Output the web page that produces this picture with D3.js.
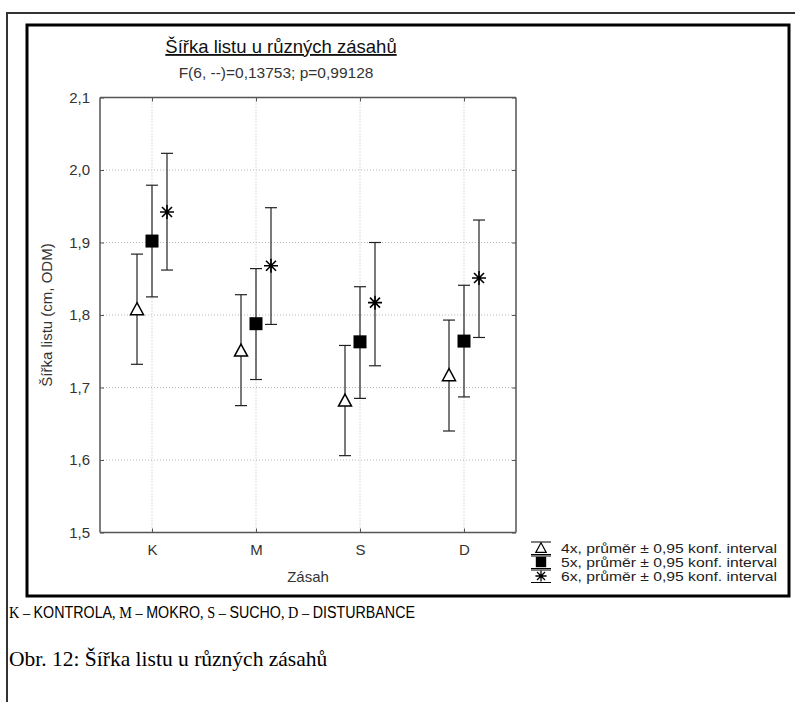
<!DOCTYPE html>
<html>
<head>
<meta charset="utf-8">
<script src="https://cdn.jsdelivr.net/npm/d3@7"></script>
<style>
  body { margin: 0; background: #fff; }
  svg { display: block; }
</style>
</head>
<body>
<svg width="795" height="702"></svg>
<script>
var categories = ["K", "M", "S", "D"];
var seriesNames = ["4x", "5x", "6x"];
// prumer, dolni a horni mez 0,95 intervalu
var mean4 = [1.808, 1.751, 1.682, 1.717];
var low4  = [1.732, 1.675, 1.606, 1.640];
var high4 = [1.884, 1.828, 1.758, 1.793];
var mean5 = [1.902, 1.788, 1.763, 1.764];
var low5  = [1.825, 1.711, 1.685, 1.687];
var high5 = [1.979, 1.864, 1.839, 1.841];
var mean6 = [1.942, 1.868, 1.817, 1.851];
var low6  = [1.862, 1.787, 1.730, 1.769];
var high6 = [2.023, 1.948, 1.900, 1.931];
var yTicks = [1.5, 1.6, 1.7, 1.8, 1.9, 2.0, 2.1];

var svg = d3.select("svg");
var fmt = function(v) { return d3.format(".1f")(v).replace(".", ","); };
var sans = "Liberation Sans, Arial, sans-serif";
var serif = "Liberation Serif, Times New Roman, serif";

// ramecky
svg.append("rect").attr("x", 7).attr("y", 13).attr("width", 800).attr("height", 700)
    .attr("fill", "none").attr("stroke", "#333").attr("stroke-width", 2);
svg.append("rect").attr("x", 27).attr("y", 25).attr("width", 762).attr("height", 571)
    .attr("fill", "#fff").attr("stroke", "#000").attr("stroke-width", 3);

var pLeft = 100, pRight = 516, pTop = 97.5, pBottom = 532.5;
var x = d3.scalePoint().domain(categories).range([pLeft, pRight]).padding(0.5);
var y = d3.scaleLinear().domain([1.5, 2.1]).range([pBottom, pTop]);
var off = d3.scalePoint().domain(seriesNames).range([-15, 15]);

// mrizka
var grid = svg.append("g").attr("stroke", "#bbb").attr("stroke-dasharray", "1,2");
grid.selectAll(".gy").data(yTicks.slice(1, -1)).enter().append("line")
    .attr("x1", pLeft).attr("x2", pRight)
    .attr("y1", function(d) { return y(d); }).attr("y2", function(d) { return y(d); });
grid.selectAll(".gx").data(categories).enter().append("line")
    .attr("y1", pTop).attr("y2", pBottom)
    .attr("x1", function(d) { return x(d); }).attr("x2", function(d) { return x(d); });

// osy
var axisL = svg.append("g").attr("transform", "translate(" + pLeft + ",0)")
    .call(d3.axisLeft(y).tickValues(yTicks).tickFormat(fmt).tickSize(-4).tickPadding(10));
var axisR = svg.append("g").attr("transform", "translate(" + pRight + ",0)")
    .call(d3.axisRight(y).tickValues(yTicks).tickFormat("").tickSize(-4));
var axisB = svg.append("g").attr("transform", "translate(0," + pBottom + ")")
    .call(d3.axisBottom(x).tickSize(-4).tickPadding(12));
var axisT = svg.append("g").attr("transform", "translate(0," + pTop + ")")
    .call(d3.axisTop(x).tickFormat("").tickSize(-4));
[axisL, axisR, axisB, axisT].forEach(function(a) {
  a.select(".domain").attr("stroke", "#555").attr("stroke-width", 1.5);
  a.selectAll(".tick line").attr("stroke", "#555");
  a.selectAll("text").attr("font-family", sans).attr("font-size", 15).attr("fill", "#333");
});
axisL.select(".domain").attr("d", "M0," + pTop + "V" + pBottom);
axisR.select(".domain").attr("d", "M0," + pTop + "V" + pBottom);
axisB.select(".domain").attr("d", "M" + pLeft + ",0H" + pRight);
axisT.select(".domain").attr("d", "M" + pLeft + ",0H" + pRight);

// titulky
svg.append("text").attr("x", 281).attr("y", 53).attr("text-anchor", "middle")
    .attr("font-family", sans).attr("font-size", 18.5)
    .attr("text-decoration", "underline").attr("fill", "#111")
    .text("Šířka listu u různých zásahů");
svg.append("text").attr("x", 276).attr("y", 78).attr("text-anchor", "middle")
    .attr("font-family", sans).attr("font-size", 15.5)
    .attr("fill", "#333").text("F(6, --)=0,13753; p=0,99128");
svg.append("text").attr("transform", "translate(52," + ((pTop + pBottom) / 2) + ") rotate(-90)")
    .attr("text-anchor", "middle")
    .attr("font-family", sans).attr("font-size", 15)
    .attr("fill", "#333").text("Šířka listu (cm, ODM)");
svg.append("text").attr("x", 308).attr("y", 582).attr("text-anchor", "middle")
    .attr("font-family", sans).attr("font-size", 15)
    .attr("fill", "#333").text("Zásah");

// symboly
function drawSymbol(g, s) {
  if (s === "4x") {
    g.append("path").attr("d", "M0,-6.5L6.5,5.5L-6.5,5.5Z").attr("fill", "#fff")
        .attr("stroke", "#000").attr("stroke-width", 1.5);
  } else if (s === "5x") {
    g.append("rect").attr("x", -6.5).attr("y", -6.5).attr("width", 13).attr("height", 13).attr("fill", "#000");
  } else {
    g.append("path").attr("d", "M0,-7V7M-7,0H7M-5,-5L5,5M-5,5L5,-5")
        .attr("stroke", "#000").attr("stroke-width", 1.6);
  }
}

var series = [
  { name: "4x", mean: mean4, low: low4, high: high4 },
  { name: "5x", mean: mean5, low: low5, high: high5 },
  { name: "6x", mean: mean6, low: low6, high: high6 }
];

series.forEach(function(s) {
  categories.forEach(function(c, i) {
    var cx = x(c) + off(s.name);
    var g = svg.append("g").attr("stroke", "#222").attr("stroke-width", 1.2);
    g.append("line").attr("x1", cx).attr("x2", cx).attr("y1", y(s.low[i])).attr("y2", y(s.high[i]));
    g.append("line").attr("x1", cx - 6).attr("x2", cx + 6).attr("y1", y(s.low[i])).attr("y2", y(s.low[i]));
    g.append("line").attr("x1", cx - 6).attr("x2", cx + 6).attr("y1", y(s.high[i])).attr("y2", y(s.high[i]));
    drawSymbol(svg.append("g").attr("transform", "translate(" + cx + "," + y(s.mean[i]) + ")"), s.name);
  });
});

// legenda
var leg = svg.append("g").attr("transform", "translate(541,548)");
series.forEach(function(s, i) {
  var r = leg.append("g").attr("transform", "translate(0," + (i * 14) + ")");
  r.append("line").attr("x1", -10).attr("x2", 10).attr("y1", -6).attr("y2", -6).attr("stroke", "#000");
  r.append("line").attr("x1", -10).attr("x2", 10).attr("y1", 6.5).attr("y2", 6.5).attr("stroke", "#000");
  drawSymbol(r.append("g").attr("transform", "scale(0.8)"), s.name);
  r.append("text").attr("x", 20).attr("y", 5)
      .attr("font-family", sans).attr("font-size", 13)
      .attr("textLength", 216).attr("lengthAdjust", "spacingAndGlyphs")
      .attr("fill", "#222").text(s.name + ", průměr ± 0,95 konf. interval");
});

// popisky pod grafem
var cap = svg.append("text").attr("transform", "translate(9,618) scale(0.84,1)")
    .attr("font-size", 17).attr("fill", "#000");
var parts = [["K", 1], [" – ", 1], ["KONTROLA", 0], [", ", 1], ["M", 1], [" – ", 1], ["MOKRO", 0], [", ", 1],
             ["S", 1], [" – ", 1], ["SUCHO", 0], [", ", 1], ["D", 1], [" – ", 1], ["DISTURBANCE", 0]];
parts.forEach(function(p) {
  cap.append("tspan").attr("font-family", p[1] ? serif : sans).text(p[0]);
});
svg.append("text").attr("x", 9).attr("y", 666)
    .attr("font-family", serif).attr("font-size", 21.5)
    .attr("fill", "#000").text("Obr. 12: Šířka listu u různých zásahů");
</script>
</body>
</html>
